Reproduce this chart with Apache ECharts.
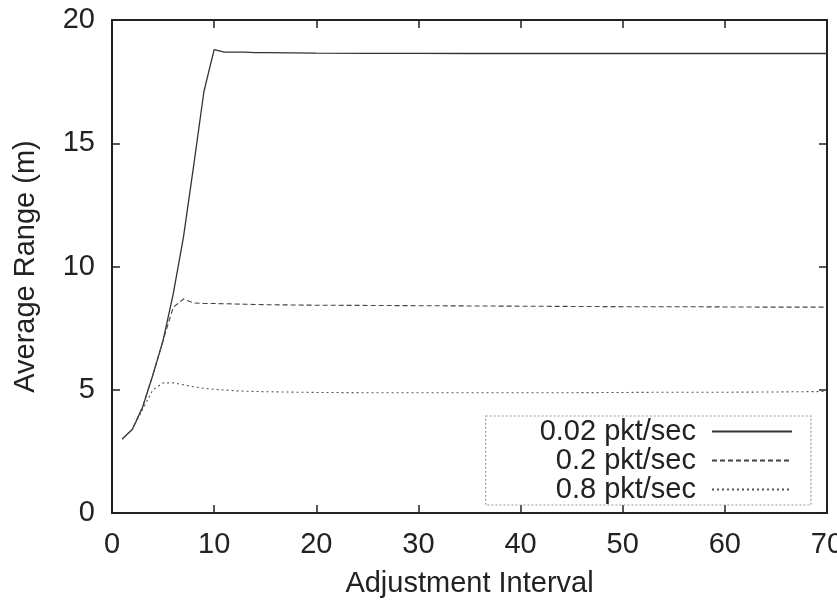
<!DOCTYPE html>
<html>
<head>
<meta charset="utf-8">
<script src="https://cdn.jsdelivr.net/npm/echarts@6/dist/echarts.min.js"></script>
<style>
html,body{margin:0;padding:0;background:#fff;}
#chart{width:837px;height:602px;}
</style>
</head>
<body>
<div id="chart"></div>
<script>
const xValues = [1,2,3,4,5,6,7,8,9,10,11,12,13,14,15,20,25,30,35,40,45,50,55,60,65,70];
const series002 = [3.0,3.4,4.3,5.6,7.0,8.9,11.2,14.1,17.1,18.8,18.7,18.7,18.7,18.68,18.68,18.66,18.65,18.65,18.64,18.64,18.64,18.64,18.64,18.64,18.64,18.64];
const series02  = [3.0,3.4,4.3,5.6,7.0,8.35,8.68,8.52,8.5,8.5,8.49,8.48,8.47,8.46,8.45,8.43,8.42,8.41,8.4,8.39,8.38,8.37,8.37,8.36,8.35,8.35];
const series08  = [3.0,3.4,4.2,5.0,5.28,5.28,5.2,5.12,5.06,5.02,4.99,4.96,4.94,4.93,4.92,4.89,4.88,4.88,4.88,4.88,4.88,4.89,4.9,4.9,4.91,4.93];
const seriesNames = ['0.02 pkt/sec','0.2 pkt/sec','0.8 pkt/sec'];
const xTicks = [0,10,20,30,40,50,60,70];
const yTicks = [0,5,10,15,20];

const pair = (ys) => xValues.map((x, i) => [x, ys[i]]);
const font = 'Liberation Sans, Arial, Helvetica, sans-serif';
const fs = 29;
const textColor = '#222';
const axisColor = '#222';

const chart = echarts.init(document.getElementById('chart'), null, {renderer: 'canvas'});

const baseAxis = {
  axisLine: {show: true, onZero: false, lineStyle: {color: axisColor, width: 2}},
  axisTick: {show: true, inside: true, length: 8, lineStyle: {color: axisColor, width: 1.5}},
  splitLine: {show: false}
};

chart.setOption({
  animation: false,
  backgroundColor: '#fff',
  grid: {left: 112, right: 10, top: 20, bottom: 89, containLabel: false, outerBoundsMode: 'none'},
  legend: {
    orient: 'vertical',
    align: 'right',
    right: 26,
    top: 416,
    itemWidth: 80,
    itemHeight: 4,
    itemGap: 0,
    padding: [1, 18, 1, 54],
    borderColor: '#999',
    borderWidth: 1.2,
    borderType: [2, 2],
    data: seriesNames,
    itemStyle: {opacity: 0, borderWidth: 0},
    textStyle: {fontFamily: font, fontSize: fs, color: textColor, lineHeight: 29, padding: [0, 11, 0, 0]}
  },
  xAxis: [
    Object.assign({}, baseAxis, {
      type: 'value', min: xTicks[0], max: xTicks[xTicks.length - 1], interval: xTicks[1] - xTicks[0],
      position: 'bottom',
      name: 'Adjustment Interval', nameLocation: 'middle', nameGap: 56,
      nameTextStyle: {fontFamily: font, fontSize: fs, color: textColor},
      axisLabel: {show: true, margin: 17, fontFamily: font, fontSize: fs, color: textColor, hideOverlap: false}
    }),
    Object.assign({}, baseAxis, {
      type: 'value', min: xTicks[0], max: xTicks[xTicks.length - 1], interval: xTicks[1] - xTicks[0],
      position: 'top', axisLabel: {show: false}
    })
  ],
  yAxis: [
    Object.assign({}, baseAxis, {
      type: 'value', min: yTicks[0], max: yTicks[yTicks.length - 1], interval: yTicks[1] - yTicks[0],
      position: 'left',
      name: 'Average Range (m)', nameLocation: 'middle', nameGap: 72, nameRotate: 90,
      nameTextStyle: {fontFamily: font, fontSize: fs, color: textColor},
      axisLabel: {show: true, margin: 17, fontFamily: font, fontSize: fs, color: textColor}
    }),
    Object.assign({}, baseAxis, {
      type: 'value', min: yTicks[0], max: yTicks[yTicks.length - 1], interval: yTicks[1] - yTicks[0],
      position: 'right', axisLabel: {show: false}
    })
  ],
  series: [
    {name: seriesNames[0], type: 'line', symbol: 'none', data: pair(series002),
     lineStyle: {color: '#333', width: 1.3, type: 'solid'}, itemStyle: {color: '#333'}},
    {name: seriesNames[1], type: 'line', symbol: 'none', data: pair(series02),
     lineStyle: {color: '#444', width: 1.1, type: [5, 3]}, itemStyle: {color: '#444'}},
    {name: seriesNames[2], type: 'line', symbol: 'none', data: pair(series08),
     lineStyle: {color: '#555', width: 1.1, type: [2, 3]}, itemStyle: {color: '#555'}}
  ]
});
</script>
</body>
</html>
